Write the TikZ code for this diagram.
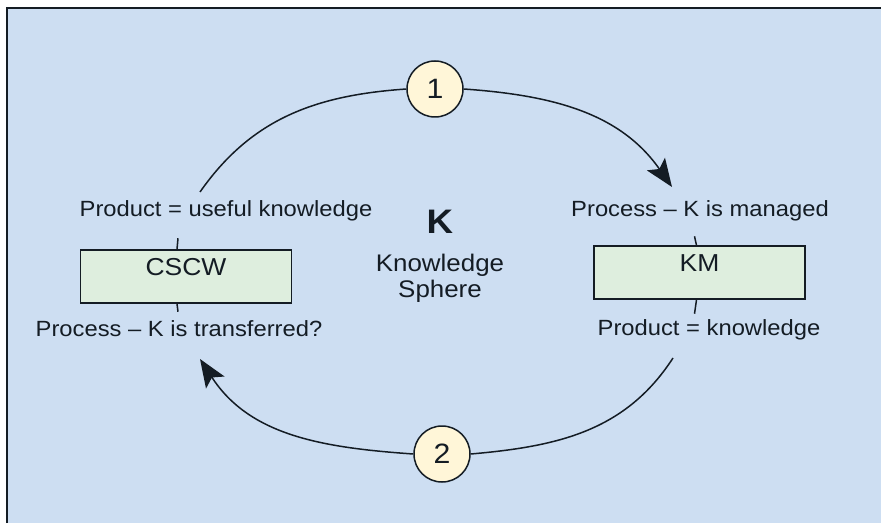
\documentclass[tikz,border=0pt]{standalone}
\usepackage{fontspec}
\setmainfont{Liberation Sans}[FakeStretch=1.08]
\usetikzlibrary{arrows.meta}
\definecolor{skyfill}{RGB}{205,222,242}
\definecolor{boxfill}{RGB}{222,238,222}
\definecolor{ballfill}{RGB}{255,246,216}
\definecolor{inkline}{RGB}{20,28,36}

\begin{document}
\begin{tikzpicture}[x = 1pt, y = 1pt, line width = 1.5pt, color = inkline,
    say/.style = {font = \fontsize{22}{26}\selectfont, inner sep = 0pt, anchor = base},
    box/.style = {draw, fill = boxfill, minimum width = 211pt, minimum height = 53pt,
        inner sep = 2pt, text depth = 19pt, font = \fontsize{24.5}{28}\selectfont},
    ball/.style = {shape = circle, draw, fill = ballfill, minimum size = 56pt,
        inner sep = 0pt, font = \fontsize{28}{30}\selectfont},
    tip/.style = {-{Stealth[length = 28pt, width = 22pt, inset = 6pt]}}]
    \useasboundingbox (0,0) rectangle (881,523);
    % frame
    \fill[white] (0,0) rectangle (881,523);
    \fill[skyfill] (7,0) rectangle (881,515);
    \draw[line width = 2pt] (7,0) -- (7,515) -- (881,515);
    % the two steps
    \node[ball] (one) at (435,434) {1};
    \node[ball] (two) at (442,69) {2};
    % left side
    \node[say] (useful) at (226,306) {Product = useful knowledge};
    \node[box] (cscw) at (186,246.5) {CSCW};
    \node[say] (transferred) at (179,187) {Process -- K is transferred?};
    % right side
    \node[say] (managed) at (700,306) {Process -- K is managed};
    \node[box] (km) at (699.5,250.5) {KM};
    \node[say] (knowhow) at (709,188) {Product = knowledge};
    % centre
    \node[font = \fontsize{34}{38}\selectfont\bfseries, anchor = base] (k) at (440,290) {K};
    \node[font = \fontsize{24}{26}\selectfont, align = center] (sphere) at (440,245) {Knowledge\\Sphere};
    % the cycle
    \draw (one.west) to[out = 184, in = 55] ([xshift = -26pt, yshift = 25pt]useful.base);
    \draw[tip] (one.east) to[out = -4, in = 125] ([xshift = -28pt, yshift = 30pt]managed.base);
    \draw ([xshift = -36pt, yshift = -23pt]knowhow.base) to[out = 237, in = 5] (two.east);
    \draw[tip] (two.west) to[out = 176, in = -57] ([xshift = 21pt, yshift = -23pt]transferred.base);
    \draw ([xshift = -9pt]cscw.north) -- ([xshift = -8pt, yshift = 11pt]cscw.north);
    \draw ([xshift = -9pt]cscw.south) -- ([xshift = -8pt, yshift = -8pt]cscw.south);
    \draw ([xshift = -3pt]km.north) -- ([xshift = -5pt, yshift = 9pt]km.north);
    \draw ([xshift = -3pt]km.south) -- ([xshift = -5pt, yshift = -14pt]km.south);
\end{tikzpicture}
\end{document}
